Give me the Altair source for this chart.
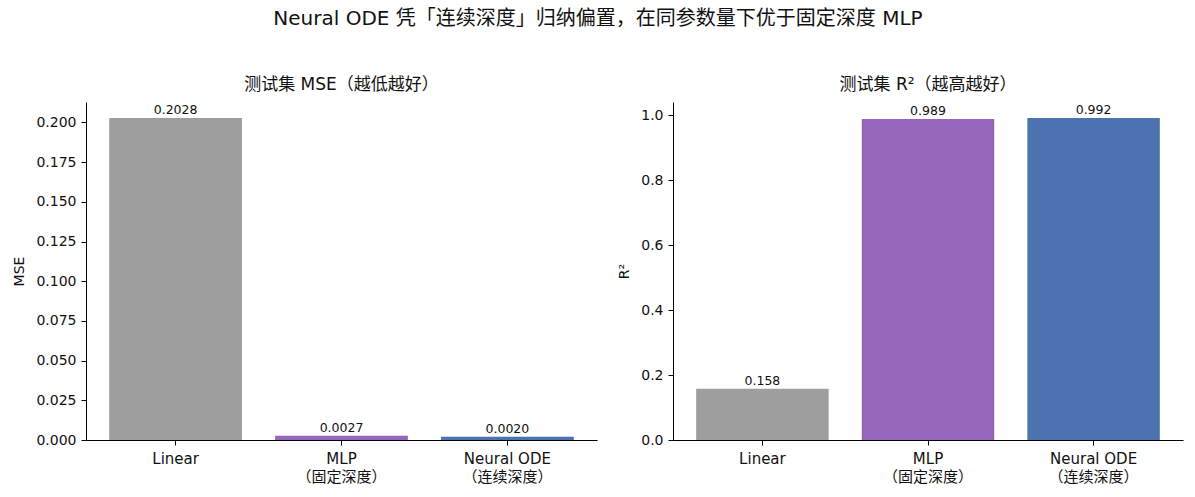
import altair as alt
import pandas as pd

categories = ["Linear", "MLP\n（固定深度）", "Neural ODE\n（连续深度）"]
mse_values = [0.2028, 0.0027, 0.0020]
r2_values = [0.158, 0.989, 0.992]
bar_colors = ["#9e9e9e", "#9467bd", "#4c72b0"]
mse_ticks = [0, 0.025, 0.05, 0.075, 0.1, 0.125, 0.15, 0.175, 0.2]
r2_ticks = [0, 0.2, 0.4, 0.6, 0.8, 1.0]

FONT = "DejaVu Sans, Noto Sans CJK SC, sans-serif"

df = pd.DataFrame({"model": categories, "mse": mse_values, "r2": r2_values})

color_scale = alt.Scale(domain=categories, range=bar_colors)


def xenc():
    return alt.X(
        "model:N",
        sort=categories,
        scale=alt.Scale(paddingInner=0.2, paddingOuter=0.14),
        axis=alt.Axis(
            title=None,
            labelAngle=0,
            labelExpr="split(datum.label, '\\n')",
            labelFontSize=15,
            labelColor="#111",
            labelFont=FONT,
            labelPadding=6,
            labelLineHeight=18,
            tickSize=5,
            tickColor="#000",
            domainColor="#000",
        ),
    )


def panel(field, title, ytitle, domain_max, tick_vals, fmt, label_fmt, w):
    base = alt.Chart(df).encode(x=xenc())
    bars = base.mark_bar().encode(
        y=alt.Y(
            f"{field}:Q",
            scale=alt.Scale(domain=[0, domain_max], nice=False),
            axis=alt.Axis(
                title=ytitle,
                values=tick_vals,
                format=fmt,
                grid=False,
                labelFontSize=14,
                labelColor="#111",
                labelFont=FONT,
                labelPadding=5,
                titleFont=FONT,
                titleFontSize=14,
                titleFontWeight="normal",
                titleColor="#111",
                tickSize=5,
                tickColor="#000",
                domainColor="#000",
                titlePadding=9,
            ),
        ),
        color=alt.Color("model:N", scale=color_scale, legend=None),
    )
    text = base.mark_text(baseline="bottom", dy=-1, fontSize=12.5, font=FONT, color="#111").encode(
        y=alt.Y(f"{field}:Q"),
        text=alt.Text(f"{field}:Q", format=label_fmt),
    )
    return (bars + text).properties(
        width=w,
        height=338,
        title=alt.TitleParams(title, fontSize=17, font=FONT, fontWeight="normal", color="#111", offset=8),
    )


left = panel("mse", "测试集 MSE（越低越好）", "MSE", 0.2129, mse_ticks, ".3f", ".4f", 511)
right = panel("r2", "测试集 R²（越高越好）", "R²", 1.0416, r2_ticks, ".1f", ".3f", 510)

chart = (
    alt.hconcat(left, right, spacing=20)
    .properties(
        title=alt.TitleParams(
            "Neural ODE 凭「连续深度」归纳偏置，在同参数量下优于固定深度 MLP",
            fontSize=20, font=FONT, fontWeight="normal", color="#111", anchor="middle", offset=47,
        ),
        padding={"left": 12, "top": 9, "right": 10, "bottom": 5},
        background="white",
    )
    .configure_view(strokeWidth=0, stroke="transparent")
)

chart.save("out.html", embed_options={"renderer": "svg", "actions": False})
